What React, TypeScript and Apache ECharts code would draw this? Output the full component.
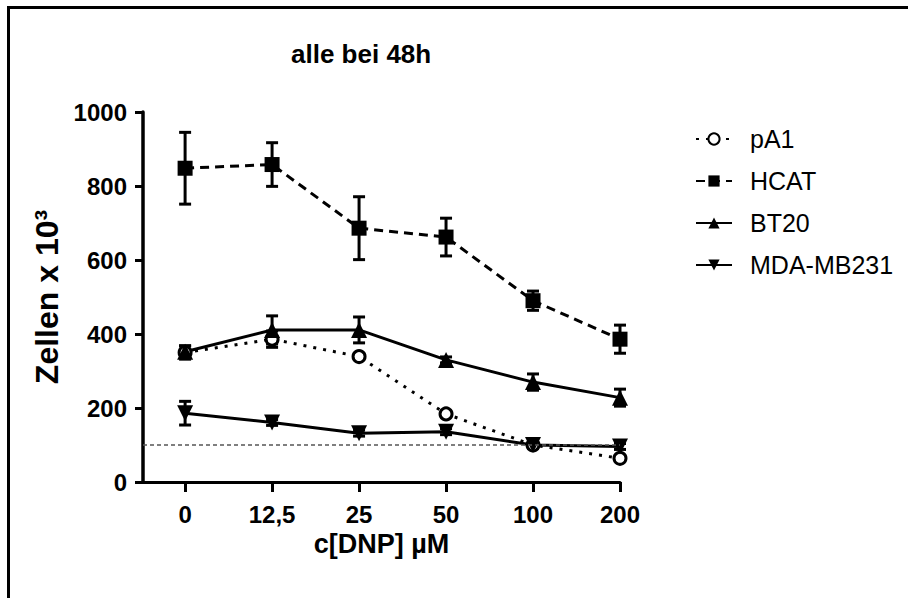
import React, { useEffect, useRef } from "react";
import * as echarts from "echarts";

const titleText = "alle bei 48h";
const xAxisName = "c[DNP] µM";
const yAxisName = "Zellen x 10³";
const xLabels = ["0", "12,5", "25", "50", "100", "200"];
const xPos = [0, 1, 2, 3, 4, 5];

const seriesNames = ["pA1", "HCAT", "BT20", "MDA-MB231"];
const pA1Values = [350, 386, 339, 184, 100, 64];
const pA1Err = [18, 22, 8, 8, 8, 6];
const hcatValues = [848, 858, 686, 662, 490, 386];
const hcatErr = [97, 59, 85, 51, 26, 38];
const bt20Values = [352, 411, 411, 330, 270, 228];
const bt20Err = [16, 38, 35, 8, 22, 23];
const mdaValues = [186, 161, 132, 136, 100, 96];
const mdaErr = [32, 8, 8, 8, 8, 8];
const thresholdValue = 100;

const FONT = "'Liberation Sans', Arial, Helvetica, sans-serif";

const toPts = (vals: number[]) => xPos.map((x, i) => [x, vals[i]]);
const toErr = (vals: number[], err: number[]) => xPos.map((x, i) => [x, vals[i], err[i]]);

const renderErr = (params: any, api: any) => {
  const x = api.value(0);
  const y = api.value(1);
  const e = api.value(2);
  const top = api.coord([x, y + e]);
  const bot = api.coord([x, y - e]);
  const hw = 6;
  const style = { stroke: "#000", lineWidth: 3 };
  return {
    type: "group",
    children: [
      { type: "line", shape: { x1: top[0], y1: top[1], x2: bot[0], y2: bot[1] }, style },
      { type: "line", shape: { x1: top[0] - hw, y1: top[1], x2: top[0] + hw, y2: top[1] }, style },
      { type: "line", shape: { x1: bot[0] - hw, y1: bot[1], x2: bot[0] + hw, y2: bot[1] }, style },
    ],
  };
};

const errSeries = (name: string, vals: number[], err: number[]) => ({
  type: "custom",
  name: name + " SEM",
  renderItem: renderErr,
  data: toErr(vals, err),
  encode: { x: 0, y: 1 },
  z: 1,
  silent: true,
  clip: false,
});

export default function App() {
  const ref = useRef<HTMLDivElement>(null);
  useEffect(() => {
    if (!ref.current) return;
    const chart = echarts.init(ref.current, undefined, { renderer: "svg" });
    const axisLabelStyle = { color: "#000", fontFamily: FONT, fontWeight: "bold" as const, fontSize: 24 };
    chart.setOption({
      animation: false,
      backgroundColor: "#fff",
      title: {
        text: titleText,
        left: 291,
        top: 41,
        padding: 0,
        textStyle: { color: "#000", fontFamily: FONT, fontWeight: "bold", fontSize: 26 },
      },
      graphic: [
        {
          type: "polyline",
          shape: { points: [[8.5, 598], [8.5, 7.5], [908, 7.5]] },
          style: { stroke: "#000", lineWidth: 3, fill: "none" },
        },
      ],
      legend: {
        data: seriesNames,
        orient: "vertical",
        left: 690,
        top: 121,
        itemWidth: 36,
        itemHeight: 14,
        itemGap: 16,
        selectedMode: false,
        textStyle: { color: "#000", fontFamily: FONT, fontSize: 25, lineHeight: 26, padding: [0, 0, 0, 13] },
      },
      grid: { left: 143, right: 288, top: 112, bottom: 116, containLabel: false },
      xAxis: {
        type: "value",
        min: -0.484,
        max: 5,
        name: xAxisName,
        nameLocation: "middle",
        nameGap: 48,
        nameTextStyle: { color: "#000", fontFamily: FONT, fontWeight: "bold", fontSize: 27 },
        axisLine: { show: true, onZero: false, lineStyle: { color: "#000", width: 3 } },
        axisTick: { show: true, length: 10, lineStyle: { color: "#000", width: 3 }, customValues: xPos },
        axisLabel: {
          ...axisLabelStyle,
          margin: 20,
          customValues: xPos,
          formatter: (v: number) => xLabels[Math.round(v)] ?? "",
        },
        splitLine: { show: false },
      },
      yAxis: {
        type: "value",
        min: 0,
        max: 1000,
        interval: 200,
        name: yAxisName,
        nameLocation: "middle",
        nameGap: 72,
        nameTextStyle: { color: "#000", fontFamily: FONT, fontWeight: "bold", fontSize: 32 },
        axisLine: { show: true, onZero: false, lineStyle: { color: "#000", width: 3.5 } },
        axisTick: { show: true, length: 8, lineStyle: { color: "#000", width: 3 } },
        axisLabel: { ...axisLabelStyle, margin: 16, formatter: (v: number) => String(v) },
        splitLine: { show: false },
      },
      series: [
        errSeries("pA1", pA1Values, pA1Err),
        errSeries("HCAT", hcatValues, hcatErr),
        errSeries("BT20", bt20Values, bt20Err),
        errSeries("MDA-MB231", mdaValues, mdaErr),
        {
          type: "line",
          name: "pA1",
          data: toPts(pA1Values),
          symbol: "circle",
          symbolSize: 12,
          z: 3,
          lineStyle: { color: "#000", width: 3, type: [3, 7] },
          itemStyle: { color: "#fff", borderColor: "#000", borderWidth: 3 },
        },
        {
          type: "line",
          name: "HCAT",
          data: toPts(hcatValues),
          symbol: "rect",
          symbolSize: 15,
          z: 3,
          lineStyle: { color: "#000", width: 3, type: [9, 6] },
          itemStyle: { color: "#000" },
        },
        {
          type: "line",
          name: "BT20",
          data: toPts(bt20Values),
          symbol: "triangle",
          symbolSize: 16,
          z: 3,
          lineStyle: { color: "#000", width: 3 },
          itemStyle: { color: "#000" },
        },
        {
          type: "line",
          name: "MDA-MB231",
          data: toPts(mdaValues),
          symbol: "triangle",
          symbolRotate: 180,
          symbolSize: 16,
          z: 3,
          lineStyle: { color: "#000", width: 3 },
          itemStyle: { color: "#000" },
          markLine: {
            silent: true,
            symbol: "none",
            label: { show: false },
            lineStyle: { color: "#555", width: 1.5, type: [4, 3] },
            data: [{ yAxis: thresholdValue }],
          },
        },
      ],
    });
    return () => chart.dispose();
  }, []);
  return (
    <div
      ref={ref}
      style={{ position: "absolute", left: 0, top: 0, width: 908, height: 598, background: "#fff" }}
    />
  );
}
